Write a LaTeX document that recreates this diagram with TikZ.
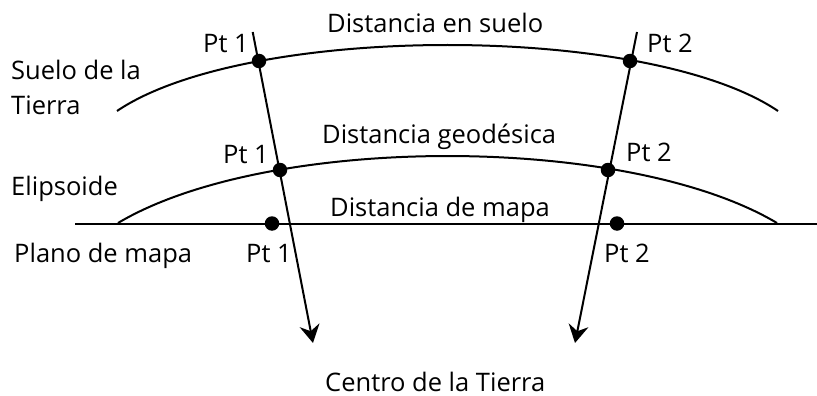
\documentclass[tikz,border=0pt]{standalone}
\usepackage{fontspec}
\setmainfont{Open Sans}
\usetikzlibrary{arrows.meta}
\tikzset{
  curve/.style={line width=2pt, black},
  ray/.style={line width=2pt, black, -{Stealth[length=18pt, width=20pt, inset=6pt]}},
  dot/.style={circle, fill=black, inner sep=0pt, minimum size=14.5pt},
  lbl/.style={anchor=base west, inner sep=0pt, text depth=0pt, font=\fontsize{25.5}{35}\selectfont},
}
\begin{document}
\begin{tikzpicture}[x=1pt,y=-1pt]
\useasboundingbox (0,0) rectangle (817,396);
% coordinates
\coordinate (gL) at (117,111);
\coordinate (gR) at (778,111);
\coordinate (eL) at (118,223);
\coordinate (eR) at (777,223);
\coordinate (mL) at (75,223.5);
\coordinate (mR) at (817,223.5);
\coordinate (top1) at (252.7,32);
\coordinate (tip1) at (313,343);
\coordinate (top2) at (637,32);
\coordinate (tip2) at (575,343);
% curves
\draw[curve] (gL) .. controls (247,23) and (648,23) .. (gR);
\draw[curve] (eL) .. controls (268,133.7) and (627,133.7) .. (eR);
\draw[curve] (mL) -- (mR);
% rays
\draw[ray] (top1) -- (tip1);
\draw[ray] (top2) -- (tip2);
% dots
\node[dot] (g1) at (259,61) {};
\node[dot] (g2) at (630,61) {};
\node[dot] (e1) at (280,170) {};
\node[dot] (e2) at (608,170) {};
\node[dot] (m1) at (272,223.5) {};
\node[dot] (m2) at (617,223.5) {};
% labels
\node[lbl] (tsuelo) at (327,33) {Distancia en suelo};
\node[lbl] (tgeo) at (322,143) {Distancia geodésica};
\node[lbl] (tmapa) at (330,216) {Distancia de mapa};
\node[lbl] (tground) at (11,80) {Suelo de la};
\node[lbl] (tground2) at (11,114) {Tierra};
\node[lbl] (telip) at (11,195) {Elipsoide};
\node[lbl] (tplano) at (14,262) {Plano de mapa};
\node[lbl] (tcentro) at (325,391) {Centro de la Tierra};
\node[lbl] (pg1) at (203,53) {Pt 1};
\node[lbl] (pe1) at (223,163) {Pt 1};
\node[lbl] (pm1) at (246,262) {Pt 1};
\node[lbl] (pg2) at (647,53) {Pt 2};
\node[lbl] (pe2) at (626,161) {Pt 2};
\node[lbl] (pm2) at (604,262) {Pt 2};
\end{tikzpicture}
\end{document}
